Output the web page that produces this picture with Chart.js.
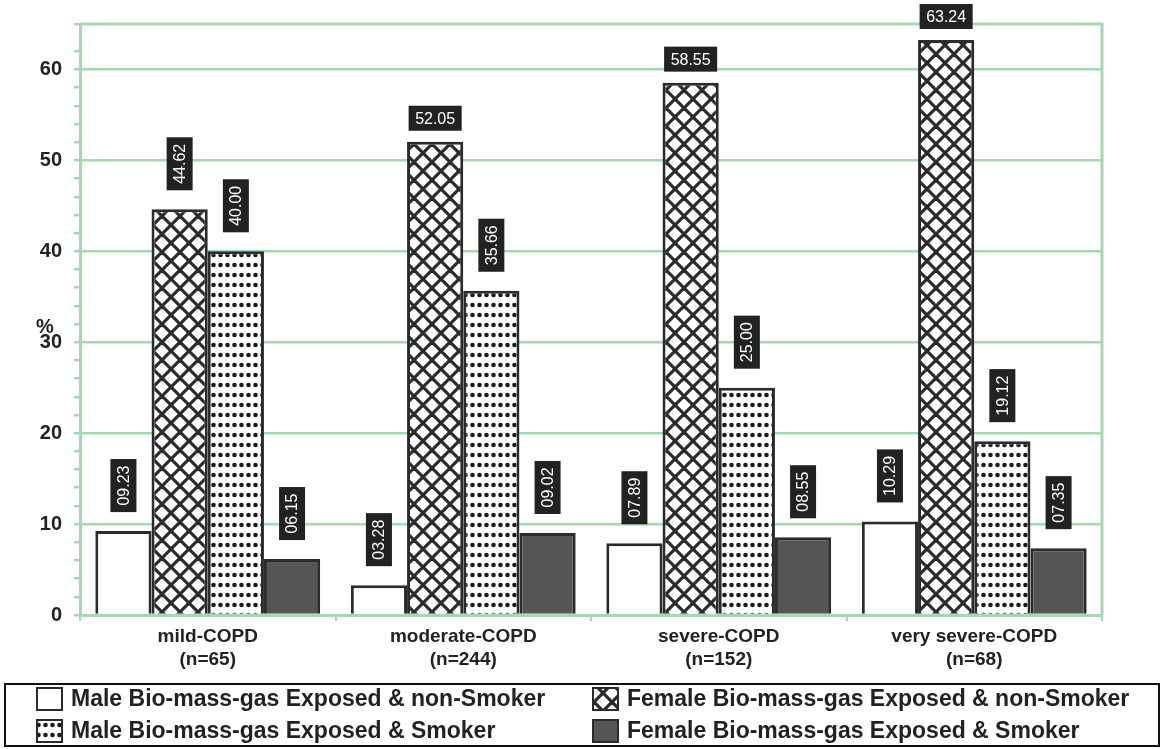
<!DOCTYPE html>
<html>
<head>
<meta charset="utf-8">
<script src="https://cdn.jsdelivr.net/npm/chart.js@4"></script>
<style>
  html, body { margin: 0; padding: 0; background: #fff; }
  #wrap { width: 1164px; height: 749px; }
</style>
</head>
<body>
<div id="wrap"><canvas id="grafico" width="1164" height="749"></canvas></div>
<script>
// data
const categorias = [
    ["mild-COPD", "(n=65)"],
    ["moderate-COPD", "(n=244)"],
    ["severe-COPD", "(n=152)"],
    ["very severe-COPD", "(n=68)"],
];
const seriesNames = [
    "Male Bio-mass-gas Exposed & non-Smoker",
    "Female Bio-mass-gas Exposed & non-Smoker",
    "Male Bio-mass-gas Exposed & Smoker",
    "Female Bio-mass-gas Exposed & Smoker",
];
const maleNonSmoker = [9.23, 3.28, 7.89, 10.29];
const femaleNonSmoker = [44.62, 52.05, 58.55, 63.24];
const maleSmoker = [40.00, 35.66, 25.00, 19.12];
const femaleSmoker = [6.15, 9.02, 8.55, 7.35];
const yMax = 65;

const verde = "#a3d8b0";
const escuro = "#2b2b2b";
const fonte = "'Liberation Sans', Arial, sans-serif";

function patternCruz() {
    const P = 18;
    const c = document.createElement("canvas");
    c.width = P; c.height = P;
    const g = c.getContext("2d");
    g.fillStyle = "#fff";
    g.fillRect(0, 0, P, P);
    g.strokeStyle = escuro;
    g.lineWidth = 3.2;
    for (let k = -1; k <= 1; k++) {
        g.beginPath();
        g.moveTo(k * P - 2, -2);
        g.lineTo(k * P + P + 2, P + 2);
        g.stroke();
        g.beginPath();
        g.moveTo((k + 1) * P + 2, -2);
        g.lineTo(k * P - 2, P + 2);
        g.stroke();
    }
    return g.createPattern(c, "repeat");
}

function patternPontos() {
    const c = document.createElement("canvas");
    c.width = 7; c.height = 10;
    const g = c.getContext("2d");
    g.fillStyle = "#fff";
    g.fillRect(0, 0, 7, 10);
    g.fillStyle = "#1a1a1a";
    g.beginPath();
    g.arc(3.5, 5, 2.3, 0, Math.PI * 2);
    g.fill();
    return g.createPattern(c, "repeat");
}

const fills = ["#ffffff", patternCruz(), patternPontos(), "#555555"];
const valores = [maleNonSmoker, femaleNonSmoker, maleSmoker, femaleSmoker];

function fmt(v) {
    return v.toFixed(2).padStart(5, "0");
}

// green frame on top and right of the plot, plus the "%" title
const moldura = {
    id: "moldura",
    beforeDatasetsDraw(chart) {
        const { ctx, chartArea } = chart;
        ctx.save();
        ctx.strokeStyle = verde;
        ctx.lineWidth = 3;
        ctx.beginPath();
        ctx.moveTo(chartArea.left, chartArea.top);
        ctx.lineTo(chartArea.right, chartArea.top);
        ctx.lineTo(chartArea.right, chartArea.bottom);
        ctx.stroke();
        const y30 = chart.scales.y.getPixelForValue(30);
        ctx.fillStyle = "#222";
        ctx.font = "bold 20px " + fonte;
        ctx.textAlign = "center";
        ctx.textBaseline = "middle";
        ctx.fillText("%", 45, y30 - 15);
        ctx.restore();
    },
};

// black value boxes above each bar
const rotulos = {
    id: "rotulos",
    afterDatasetsDraw(chart) {
        const { ctx, chartArea } = chart;
        ctx.save();
        ctx.font = "16px " + fonte;
        ctx.textAlign = "center";
        ctx.textBaseline = "middle";
        chart.data.datasets.forEach((ds, i) => {
            chart.getDatasetMeta(i).data.forEach((bar, j) => {
                const txt = fmt(ds.data[j]);
                const w = ctx.measureText(txt).width;
                const h = w + 13;
                let top = bar.y - 19 - h;
                if (top < chartArea.top + 55) {
                    const bw = w + 13, bh = 25;
                    const by = bar.y - 11 - bh;
                    ctx.fillStyle = "#222";
                    ctx.fillRect(bar.x - bw / 2, by, bw, bh);
                    ctx.fillStyle = "#fff";
                    ctx.fillText(txt, bar.x, by + bh / 2 + 1);
                } else {
                    ctx.fillStyle = "#222";
                    ctx.fillRect(bar.x - 13, top, 26, h);
                    ctx.save();
                    ctx.translate(bar.x + 1, top + h / 2);
                    ctx.rotate(-Math.PI / 2);
                    ctx.fillStyle = "#fff";
                    ctx.fillText(txt, 0, 0);
                    ctx.restore();
                }
            });
        });
        ctx.restore();
    },
};

// boxed legend in two columns
const legenda = {
    id: "legenda",
    afterDraw(chart) {
        const ctx = chart.ctx;
        ctx.save();
        ctx.strokeStyle = "#111";
        ctx.lineWidth = 2;
        ctx.strokeRect(5, 684, 1154, 62);
        const pos = [[37, 688], [593, 688], [37, 720], [593, 720]];
        ctx.font = "bold 23px " + fonte;
        ctx.textBaseline = "middle";
        ctx.textAlign = "left";
        chart.data.datasets.forEach((ds, i) => {
            const [x, y] = pos[i];
            ctx.fillStyle = ds.backgroundColor;
            ctx.fillRect(x, y, 25, 22);
            ctx.strokeStyle = escuro;
            ctx.lineWidth = 2;
            ctx.strokeRect(x, y, 25, 22);
            ctx.fillStyle = "#222";
            ctx.fillText(ds.label, x + 34, y + 12);
        });
        ctx.restore();
    },
};

const ctx = document.getElementById("grafico").getContext("2d");

new Chart(ctx, {
    type: "bar",
    data: {
        labels: categorias,
        datasets: seriesNames.map((nome, i) => ({
            label: nome,
            data: valores[i],
            backgroundColor: fills[i],
            borderColor: escuro,
            borderWidth: 3,
            borderSkipped: "bottom",
            categoryPercentage: 0.88,
            barPercentage: 1.0,
        })),
    },
    options: {
        responsive: false,
        animation: false,
        layout: { padding: { left: 0, top: 20, right: 62, bottom: 74 } },
        plugins: {
            legend: { display: false },
            title: { display: false },
            tooltip: { enabled: false },
        },
        scales: {
            x: {
                afterFit(s) { s.height = 60; },
                grid: {
                    offset: true,
                    drawOnChartArea: false,
                    tickLength: 6,
                    tickColor: verde,
                    lineWidth: 2,
                },
                border: { color: verde, width: 3 },
                ticks: {
                    color: "#222",
                    font: { family: fonte, size: 19, weight: "bold", lineHeight: 1.22 },
                    padding: 4,
                    maxRotation: 0,
                },
            },
            y: {
                min: 0,
                max: yMax,
                afterFit(s) { s.width = 80; },
                grid: {
                    color: (c) => (c.tick && c.tick.value % 10 === 0 && c.tick.value > 0 ? verde : "rgba(0,0,0,0)"),
                    lineWidth: 2.5,
                    tickLength: 6,
                    tickColor: verde,
                },
                border: { color: verde, width: 3 },
                ticks: {
                    stepSize: 2,
                    autoSkip: false,
                    color: "#222",
                    padding: 12,
                    font: { family: fonte, size: 20, weight: "bold" },
                    callback: (v) => (v % 10 === 0 ? v : ""),
                },
            },
        },
    },
    plugins: [moldura, rotulos, legenda],
});
</script>
</body>
</html>
